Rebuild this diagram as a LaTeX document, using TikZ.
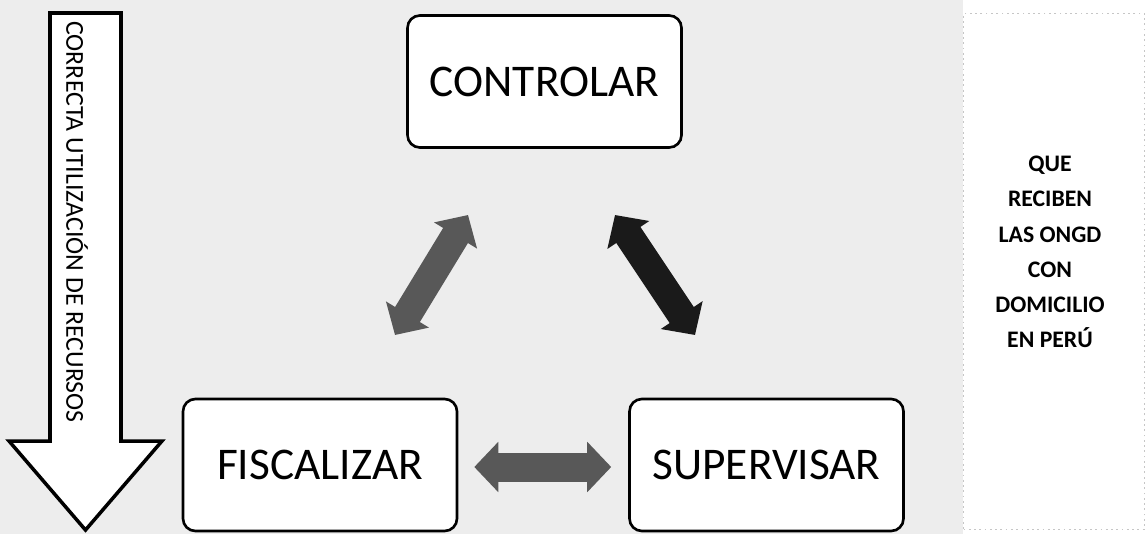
\documentclass[tikz,border=0pt]{standalone}
\usepackage{fontspec}
\setmainfont{Carlito}
\usetikzlibrary{arrows.meta,positioning}

\definecolor{grisflecha}{HTML}{585858}
\definecolor{negroflecha}{HTML}{1A1A1A}
\definecolor{fondo}{HTML}{EDEDED}

\tikzset{
  accion/.style={draw, line width=1.5pt, rounded corners=7pt, fill=white,
    minimum width=5.48cm, minimum height=2.64cm,
    font=\fontsize{25.8}{30}\selectfont},
  flecha/.style={line width=0.58cm,
    {Triangle[length=0.48cm,width=0.98cm]}-{Triangle[length=0.48cm,width=0.98cm]}},
}

\begin{document}
\begin{tikzpicture}[x=0.02cm,y=-0.02cm]
\useasboundingbox (0,0) rectangle (1145,534);
\fill[fondo] (0,0) rectangle (963,534);

% flecha vertical
\draw[line width=2pt, fill=white] (50,13) -- (121,13) -- (121,441) -- (162,441)
  -- (85.5,530) -- (9,441) -- (50,441) -- cycle;
\node[rotate=-90, font=\fontsize{14.7}{16}\selectfont] (recursos) at (77,222)
  {CORRECTA UTILIZACIÓN DE RECURSOS};

% cajas
\node[accion] (controlar) at (544.5,81.5) {CONTROLAR};
\node[accion] (fiscalizar) at (320,465) {FISCALIZAR};
\node[accion] (supervisar) at (766.5,465) {SUPERVISAR};

% flechas dobles
\coordinate (fc1) at (395,335);
\coordinate (fc2) at (468,215);
\coordinate (cs1) at (615,215);
\coordinate (cs2) at (695,335);
\draw[flecha, grisflecha] (fc1) -- (fc2);
\draw[flecha, negroflecha] (cs1) -- (cs2);
\draw[flecha, grisflecha] ([xshift=0.32cm,yshift=-0.04cm]fiscalizar.east)
  -- ([xshift=-0.34cm,yshift=-0.04cm]supervisar.west);

% panel derecho
\node[draw=gray!45, dotted, line width=1pt, fill=white,
  minimum width=3.62cm, minimum height=10.32cm] (ongd) at (1054,271.5) {};
\node[font=\fontsize{13.5}{20}\selectfont\bfseries, align=center] (ongdtexto)
  at (1050,252) {QUE\\RECIBEN\\LAS ONGD\\CON\\DOMICILIO\\EN PERÚ};
\end{tikzpicture}
\end{document}
